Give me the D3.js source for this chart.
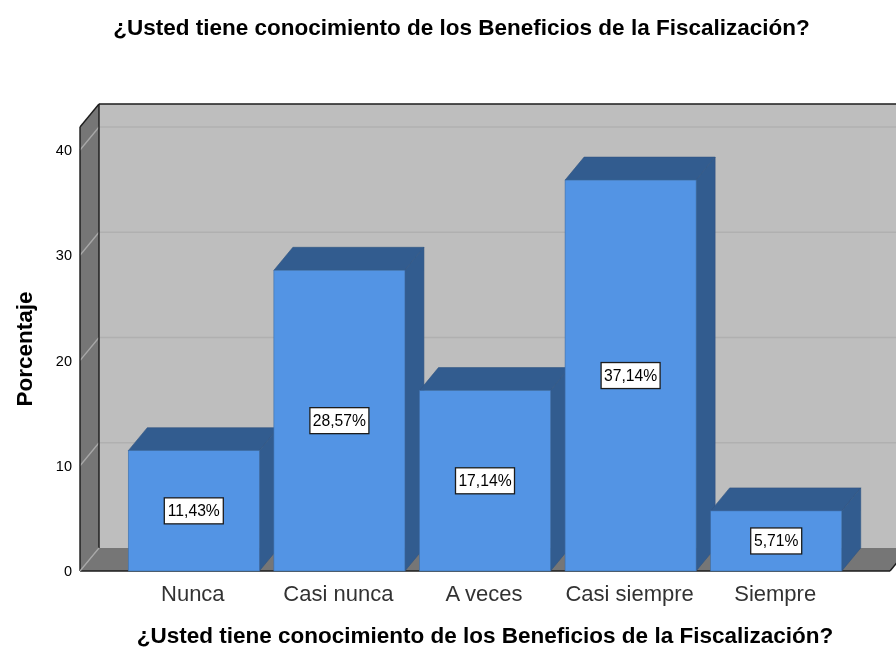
<!DOCTYPE html>
<html>
<head>
<meta charset="utf-8">
<script src="https://cdn.jsdelivr.net/npm/d3@7"></script>
<style>
html, body { margin: 0; padding: 0; background: #fff; }
svg { display: block; }
text { font-family: "Liberation Sans", Arial, sans-serif; fill: #000; }
</style>
</head>
<body>
<svg width="896" height="649"></svg>
<script>
var categories = ["Nunca", "Casi nunca", "A veces", "Casi siempre", "Siempre"];
var values = [11.43, 28.57, 17.14, 37.14, 5.71];
var yTicks = [0, 10, 20, 30, 40];
var titleText = "¿Usted tiene conocimiento de los Beneficios de la Fiscalización?";

var svg = d3.select("svg"),
    width = +svg.attr("width"),
    height = +svg.attr("height");

// depth of the fake 3d box
var depthX = 19,
    depthY = 23;

var x = d3.scaleBand()
    .domain(categories)
    .range([121, 849])
    .paddingInner(0.1)
    .paddingOuter(0.05);

var y = d3.scaleLinear()
    .domain([0, 40])
    .range([571, 150]);

var left = 80,
    right = 890,
    bottom = y(0),
    top3d = 127;

var blur = svg.append("defs").append("filter")
    .attr("id", "soft")
    .attr("x", "-5%").attr("y", "-5%")
    .attr("width", "110%").attr("height", "110%");
blur.append("feGaussianBlur").attr("stdDeviation", 0.45);

var root = svg.append("g").attr("filter", "url(#soft)");

function poly(points) {
    return points.map(function(p) { return p.join(","); }).join(" ");
}

// back wall, side wall and floor
root.append("polygon")
    .attr("points", poly([[left + depthX, top3d - depthY], [right + depthX, top3d - depthY], [right + depthX, bottom - depthY], [left + depthX, bottom - depthY]]))
    .attr("fill", "#bebebe");

root.append("polygon")
    .attr("points", poly([[left, top3d], [left + depthX, top3d - depthY], [left + depthX, bottom - depthY], [left, bottom]]))
    .attr("fill", "#767676");

root.append("polygon")
    .attr("points", poly([[left, bottom], [left + depthX, bottom - depthY], [right + depthX, bottom - depthY], [right, bottom]]))
    .attr("fill", "#767676");

// gridlines, running over side wall and back wall
var grid = root.append("g").selectAll("g")
    .data(yTicks.slice(1))
    .enter().append("g");

grid.append("line")
    .attr("x1", left)
    .attr("y1", function(d) { return y(d); })
    .attr("x2", left + depthX)
    .attr("y2", function(d) { return y(d) - depthY; })
    .attr("stroke", "#a8a8a8")
    .attr("stroke-width", 1.3);

grid.append("line")
    .attr("x1", left + depthX)
    .attr("y1", function(d) { return y(d) - depthY; })
    .attr("x2", right + depthX)
    .attr("y2", function(d) { return y(d) - depthY; })
    .attr("stroke", "#b0b0b0")
    .attr("stroke-width", 1.5);

// box edges
var edges = [
    [[left, top3d], [left + depthX, top3d - depthY]],
    [[left + depthX, top3d - depthY], [right + depthX, top3d - depthY]],
    [[left + depthX, top3d - depthY], [left + depthX, bottom - depthY]],
    [[left, top3d], [left, bottom]],
    [[left, bottom], [right, bottom]],
    [[right, bottom], [right + depthX, bottom - depthY]]
];

root.append("g").selectAll("line")
    .data(edges)
    .enter().append("line")
    .attr("x1", function(d) { return d[0][0]; })
    .attr("y1", function(d) { return d[0][1]; })
    .attr("x2", function(d) { return d[1][0]; })
    .attr("y2", function(d) { return d[1][1]; })
    .attr("stroke", "#1c1c1c")
    .attr("stroke-width", 1.4);

root.append("line")
    .attr("x1", left).attr("y1", bottom)
    .attr("x2", left + depthX).attr("y2", bottom - depthY)
    .attr("stroke", "#a8a8a8")
    .attr("stroke-width", 1.3);

// bars
var data = categories.map(function(c, i) { return { cat: c, val: values[i] }; });

var bar = root.append("g").selectAll("g")
    .data(data)
    .enter().append("g");

bar.append("polygon")
    .attr("points", function(d) {
        var x0 = x(d.cat), x1 = x0 + x.bandwidth(), t = y(d.val);
        return poly([[x0, t], [x0 + depthX, t - depthY], [x1 + depthX, t - depthY], [x1, t]]);
    })
    .attr("fill", "#335c8f")
    .attr("stroke", "#2f5482")
    .attr("stroke-width", 0.6);

bar.append("polygon")
    .attr("points", function(d) {
        var x1 = x(d.cat) + x.bandwidth(), t = y(d.val);
        return poly([[x1, t], [x1 + depthX, t - depthY], [x1 + depthX, bottom - depthY], [x1, bottom]]);
    })
    .attr("fill", "#335c8f")
    .attr("stroke", "#2f5482")
    .attr("stroke-width", 0.6);

bar.append("rect")
    .attr("x", function(d) { return x(d.cat); })
    .attr("y", function(d) { return y(d.val); })
    .attr("width", x.bandwidth())
    .attr("height", function(d) { return bottom - y(d.val); })
    .attr("fill", "#5294e4")
    .attr("stroke", "#3f6ea8")
    .attr("stroke-width", 0.6);

// value labels in the middle of each bar
bar.append("rect")
    .attr("x", function(d) { return x(d.cat) + x.bandwidth() / 2 - (d.val < 10 ? 25.5 : 29.5); })
    .attr("y", function(d) { return (y(d.val) + bottom) / 2 - 13; })
    .attr("width", function(d) { return d.val < 10 ? 51 : 59; })
    .attr("height", 26)
    .attr("fill", "#fff")
    .attr("stroke", "#1c1c1c")
    .attr("stroke-width", 1.3);

bar.append("text")
    .attr("x", function(d) { return x(d.cat) + x.bandwidth() / 2; })
    .attr("y", function(d) { return (y(d.val) + bottom) / 2 + 5.5; })
    .attr("text-anchor", "middle")
    .style("font-size", "15.7px")
    .text(function(d) { return d.val.toFixed(2).replace(".", ",") + "%"; });

// axes
var yAxis = root.append("g")
    .attr("transform", "translate(" + left + ",0)")
    .call(d3.axisLeft(y).tickValues(yTicks).tickSize(0).tickPadding(8));
yAxis.select(".domain").remove();
yAxis.selectAll("text")
    .style("font-family", '"Liberation Sans", Arial, sans-serif')
    .style("font-size", "14.5px");

var xAxis = root.append("g")
    .attr("transform", "translate(0," + bottom + ")")
    .call(d3.axisBottom(x).tickSize(0).tickPadding(14));
xAxis.select(".domain").remove();
xAxis.selectAll("text")
    .attr("dx", -1)
    .style("font-family", '"Liberation Sans", Arial, sans-serif')
    .style("font-size", "22px")
    .style("fill", "#333");

// titles
root.append("text")
    .attr("x", 461.5)
    .attr("y", 35)
    .attr("text-anchor", "middle")
    .style("font-size", "22.5px")
    .style("font-weight", "bold")
    .text(titleText);

// lifted a little so the whole line stays inside the picture
root.append("text")
    .attr("x", 485)
    .attr("y", 643)
    .attr("text-anchor", "middle")
    .style("font-size", "22.5px")
    .style("font-weight", "bold")
    .text(titleText);

root.append("text")
    .attr("transform", "translate(32,349) rotate(-90)")
    .attr("text-anchor", "middle")
    .style("font-size", "22.5px")
    .style("font-weight", "bold")
    .text("Porcentaje");
</script>
</body>
</html>
